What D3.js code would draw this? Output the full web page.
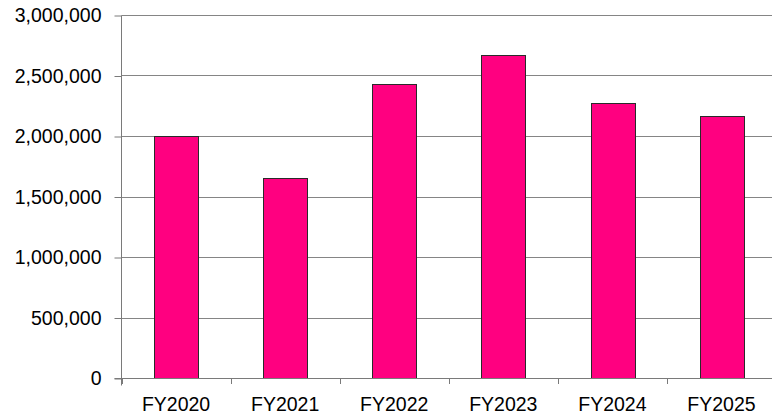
<!DOCTYPE html>
<meta charset="utf-8">
<script src="https://d3js.org/d3.v7.min.js"></script>
<style>
  body { margin: 0; background: #fff; }
  text { font-family: 'Liberation Sans', Arial, sans-serif; }
</style>
<body>
<div id="chart"></div>
<script>

var categories = ["FY2020", "FY2021", "FY2022", "FY2023", "FY2024", "FY2025"]
var values = [2000000, 1650000, 2430000, 2670000, 2275000, 2165000]
var yTicks = [0, 500000, 1000000, 1500000, 2000000, 2500000, 3000000]

var width = 772,
    height = 417

var plotLeft = 121.5, plotRight = 776, plotTop = 15.5, plotBottom = 378.5

var svg = d3.select("#chart")
  .append("svg")
    .attr("width", width)
    .attr("height", height)

var x = d3.scaleBand()
  .domain(categories)
  .range([plotLeft, plotRight])
  .paddingInner(0.6)
  .paddingOuter(0.3)

var xb = d3.scaleBand()
  .domain(categories)
  .range([plotLeft, plotRight])

var y = d3.scaleLinear()
  .domain([0, 3000000])
  .range([plotBottom, plotTop])

var fmt = d3.format(",")

// gridlines
svg.selectAll("line.grid")
  .data(yTicks.slice(1))
  .enter()
  .append("line")
    .attr("x1", plotLeft)
    .attr("x2", width)
    .attr("y1", function(d) { return Math.floor(y(d)) + 0.5 })
    .attr("y2", function(d) { return Math.floor(y(d)) + 0.5 })
    .attr("stroke", "#858585")
    .attr("stroke-width", 1)

// bars
svg.selectAll("rect.bar")
  .data(values)
  .enter()
  .append("rect")
    .attr("x", function(d, i) { return Math.round(x(categories[i])) + 0.5 })
    .attr("y", function(d) { return Math.floor(y(d)) + 0.5 })
    .attr("width", Math.round(x.bandwidth()))
    .attr("height", function(d) { return Math.floor(y(0)) - Math.floor(y(d)) })
    .attr("fill", "#FF0080")
    .attr("stroke", "#2a2a2a")
    .attr("stroke-width", 1)

// y axis
var yAxis = svg.append("g")
  .attr("transform", "translate(" + plotLeft + ",0)")
  .call(d3.axisLeft(y).tickValues(yTicks).tickFormat(fmt).tickSize(7).tickPadding(13))
yAxis.select(".domain").attr("stroke", "#7a7a7a").attr("d", "M0," + plotTop + "V" + (plotBottom + 7))
yAxis.selectAll(".tick line").attr("stroke", "#7a7a7a")
yAxis.selectAll(".tick text")
  .attr("fill", "#000")
  .style("font-size", "19.5px")

// x axis
var xAxis = svg.append("g")
  .attr("transform", "translate(0," + Math.floor(plotBottom) + ")")
xAxis.append("line")
  .attr("x1", plotLeft - 7).attr("x2", width)
  .attr("y1", 0.5).attr("y2", 0.5)
  .attr("stroke", "#7a7a7a")
xAxis.selectAll("line.tk")
  .data(categories.concat(["end"]))
  .enter()
  .append("line")
    .attr("x1", function(d, i) { return Math.round(plotLeft + i * xb.bandwidth()) + 0.5 })
    .attr("x2", function(d, i) { return Math.round(plotLeft + i * xb.bandwidth()) + 0.5 })
    .attr("y1", 0).attr("y2", 6)
    .attr("stroke", "#7a7a7a")
xAxis.selectAll("text")
  .data(categories)
  .enter()
  .append("text")
    .attr("x", function(d) { return xb(d) + xb.bandwidth() / 2 })
    .attr("y", 33)
    .attr("text-anchor", "middle")
    .style("font-size", "19.5px")
    .attr("fill", "#000")
    .text(function(d) { return d })

</script>
</body>
